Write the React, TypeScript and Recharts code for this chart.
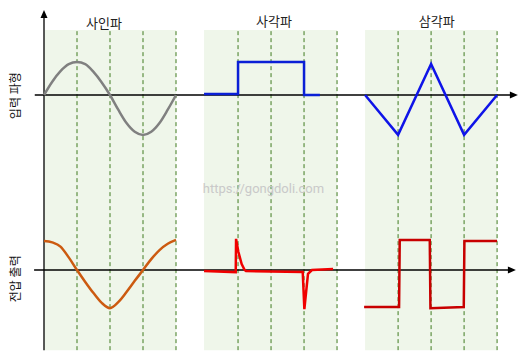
import { LineChart, Line, XAxis, YAxis, ReferenceArea, ReferenceLine, ReferenceDot } from "recharts"

// x unit = one dashed-grid step, y unit = one amplitude step
const sineX = [0, 0.25, 0.5, 0.75, 1, 1.25, 1.5, 1.75, 2, 2.25, 2.5, 2.75, 3, 3.25, 3.5, 3.75, 4]
const sineIn = [0, 0.38, 0.68, 0.88, 0.94, 0.88, 0.66, 0.36, 0, -0.42, -0.8, -1.05, -1.14, -1.05, -0.8, -0.42, 0]
const sineOut = [0.83, 0.79, 0.67, 0.36, 0, -0.34, -0.66, -0.94, -1.09, -0.92, -0.63, -0.31, 0, 0.31, 0.57, 0.75, 0.86]

const squareInX = [4.85, 5.88, 5.88, 7.88, 7.88, 8.36]
const squareIn = [0.03, 0.03, 0.94, 0.94, 0, 0]
const squareOutX = [4.85, 5.81, 5.82, 5.89, 5.99, 6.08, 6.12, 7.84, 7.89, 8.0, 8.12, 8.76]
const squareOut = [-0.03, -0.06, 0.89, 0.52, 0.17, 0.0, -0.03, -0.06, -1.12, -0.11, 0.0, 0.03]

const triX = [9.73, 10.73, 11.73, 12.73, 13.73]
const triIn = [0, -1.14, 0.89, -1.14, 0]
const triOutX = [9.7, 10.76, 10.78, 11.69, 11.71, 12.72, 12.74, 13.73]
const triOut = [-1.06, -1.06, 0.86, 0.86, -1.09, -1.06, 0.83, 0.83]

const bands = [[0, 4], [4.85, 8.88], [9.73, 13.73]]
const gridX = [1, 2, 3, 4, 5.88, 6.88, 7.88, 8.88, 10.73, 11.73, 12.73, 13.73]
const titles = [
  { text: "사인파", x: 1.82, y: 7.07 },
  { text: "사각파", x: 6.97, y: 7.12 },
  { text: "삼각파", x: 11.9, y: 7.12 },
]
const sideLabels = [
  { text: "입력 파형", x: -0.9, y: 4.98 },
  { text: "전압 출력", x: -0.9, y: -0.25 },
]

const IN_BASE = 5
const OUT_BASE = 0

const toPts = (xs: number[], ys: number[], base: number) => xs.map((x, i) => ({ x, y: ys[i] + base }))

const W = 526
const H = 362
const X_DOMAIN: [number, number] = [-44 / 33, (W - 44) / 33]
const Y_DOMAIN: [number, number] = [270 / 35, (270 - H) / 35]

const BAND_TOP = 6.86
const BAND_BOTTOM = -2.29
const FONT = "'Noto Sans CJK KR', 'Noto Sans', sans-serif"

const UpArrow = (props: any) => (
  <polygon points={`${props.cx},${props.cy} ${props.cx - 3.5},${props.cy + 8} ${props.cx + 3.5},${props.cy + 8}`} fill="#000" />
)
const RightArrow = (props: any) => (
  <polygon points={`${props.cx},${props.cy} ${props.cx - 8},${props.cy - 3.5} ${props.cx - 8},${props.cy + 3.5}`} fill="#000" />
)

const series = [
  { xs: sineX, ys: sineIn, base: IN_BASE, curve: "monotone", color: "#808080" },
  { xs: squareInX, ys: squareIn, base: IN_BASE, curve: "linear", color: "#0a1fd6" },
  { xs: triX, ys: triIn, base: IN_BASE, curve: "linear", color: "#0f14e8" },
  { xs: sineX, ys: sineOut, base: OUT_BASE, curve: "monotone", color: "#cc5a10" },
  { xs: squareOutX, ys: squareOut, base: OUT_BASE, curve: "linear", color: "#f00000" },
  { xs: triOutX, ys: triOut, base: OUT_BASE, curve: "linear", color: "#c80000" },
]

export default function App() {
  return (
    <div style={{ position: "absolute", left: 0, top: 0, background: "#fff" }}>
      <LineChart width={W} height={H} margin={{ top: 0, right: 0, bottom: 0, left: 0 }}>
        <XAxis type="number" dataKey="x" domain={X_DOMAIN} allowDataOverflow hide />
        <YAxis type="number" dataKey="y" domain={[Y_DOMAIN[1], Y_DOMAIN[0]]} allowDataOverflow hide />

        {bands.map(([a, b], i) => (
          <ReferenceArea key={"b" + i} x1={a} x2={b} y1={BAND_BOTTOM} y2={BAND_TOP} fill="#eff6ea" fillOpacity={1} stroke="none" />
        ))}
        {gridX.map((x) => (
          <ReferenceLine
            key={"g" + x}
            segment={[{ x, y: BAND_BOTTOM }, { x, y: BAND_TOP }]}
            stroke="#3f7a1f"
            strokeDasharray="4 3"
            strokeWidth={1}
          />
        ))}

        {/* axes */}
        <ReferenceLine segment={[{ x: 0, y: BAND_BOTTOM }, { x: 0, y: 7.3 }]} stroke="#000" strokeWidth={1.3} />
        <ReferenceLine segment={[{ x: -0.28, y: IN_BASE }, { x: 14.2, y: IN_BASE }]} stroke="#000" strokeWidth={1.3} />
        <ReferenceLine segment={[{ x: -0.3, y: OUT_BASE }, { x: 14.15, y: OUT_BASE }]} stroke="#000" strokeWidth={1.3} />
        <ReferenceDot x={0} y={7.43} ifOverflow="visible" shape={UpArrow} />
        <ReferenceDot x={14.36} y={IN_BASE} ifOverflow="visible" shape={RightArrow} />
        <ReferenceDot x={14.3} y={OUT_BASE} ifOverflow="visible" shape={RightArrow} />

        {titles.map((t) => (
          <ReferenceDot
            key={t.text}
            x={t.x}
            y={t.y}
            ifOverflow="visible"
            shape={(p: any) => (
              <text x={p.cx} y={p.cy} textAnchor="middle" dominantBaseline="central" fontSize={13} fill="#222" fontFamily={FONT}>
                {t.text}
              </text>
            )}
          />
        ))}
        {sideLabels.map((t) => (
          <ReferenceDot
            key={t.text}
            x={t.x}
            y={t.y}
            ifOverflow="visible"
            shape={(p: any) => (
              <text
                x={p.cx}
                y={p.cy}
                textAnchor="middle"
                dominantBaseline="central"
                fontSize={12}
                fill="#111"
                fontFamily={FONT}
                transform={`rotate(-90 ${p.cx} ${p.cy})`}
              >
                {t.text}
              </text>
            )}
          />
        ))}
        <ReferenceDot
          x={6.65}
          y={2.34}
          ifOverflow="visible"
          shape={(p: any) => (
            <text x={p.cx} y={p.cy} textAnchor="middle" dominantBaseline="central" fontSize={13} fill="#c9c9c9" fontFamily="'Roboto', 'Liberation Sans', sans-serif">
              https://gongdoli.com
            </text>
          )}
        />

        {series.map((s, i) => (
          <Line
            key={"s" + i}
            data={toPts(s.xs, s.ys, s.base)}
            dataKey="y"
            type={s.curve as any}
            stroke={s.color}
            strokeWidth={2.5}
            dot={false}
            activeDot={false}
            legendType="none"
            isAnimationActive={false}
          />
        ))}
      </LineChart>
    </div>
  )
}
